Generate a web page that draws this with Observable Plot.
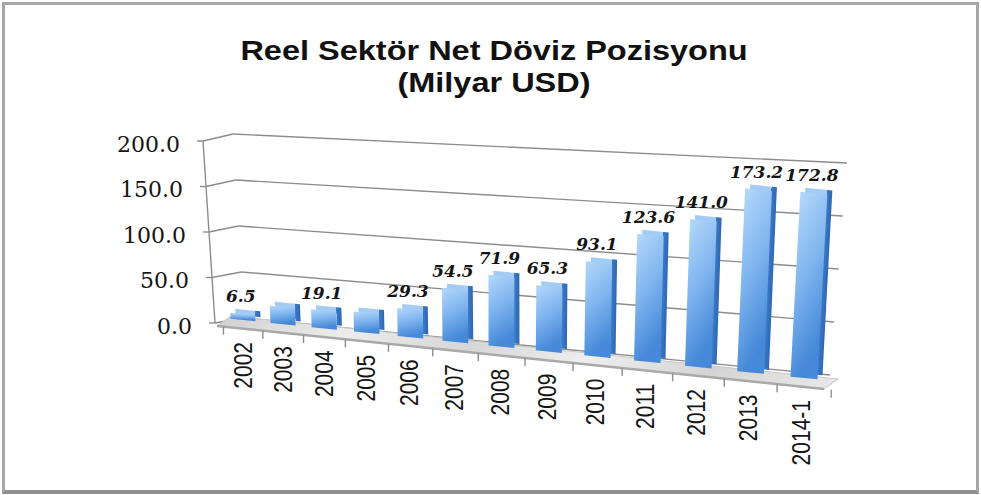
<!DOCTYPE html>
<html><head><meta charset="utf-8">
<script src="https://cdn.jsdelivr.net/npm/d3@7"></script>
<script src="https://cdn.jsdelivr.net/npm/@observablehq/plot@0.6"></script>
<style>
html,body{margin:0;padding:0;background:#fff;width:981px;height:495px;overflow:hidden;position:relative;}
#title{position:absolute;left:0;top:35px;width:988px;text-align:center;font-family:"Liberation Sans",Arial,sans-serif;font-weight:700;font-size:28px;line-height:32px;color:#111;white-space:nowrap;transform:scaleX(1.16);transform-origin:494px 0;}
#chart{position:absolute;left:0;top:110px;}
#border{position:absolute;left:2px;top:2px;width:977px;height:492px;box-sizing:border-box;border:3px solid #a6a6a6;border-bottom:4px solid #8f8f8f;pointer-events:none;}
</style></head><body>
<div id="title">Reel Sektör Net Döviz Pozisyonu<br>(Milyar USD)</div>
<div id="chart"></div>
<div id="border"></div>
<script>
// ---- data ----
const categories = ["2002","2003","2004","2005","2006","2007","2008","2009","2010","2011","2012","2013","2014-1"];
const values = [6.5, 18.5, 19.1, 21.3, 29.3, 54.5, 71.9, 65.3, 93.1, 123.6, 141.0, 173.2, 172.8];
const valueLabels = ["6.5", null, "19.1", null, "29.3", "54.5", "71.9", "65.3", "93.1", "123.6", "141.0", "173.2", "172.8"];
const yTicks = [0, 50, 100, 150, 200];
const yTickLabels = ["0.0", "50.0", "100.0", "150.0", "200.0"];

const data = categories.map((c, i) => ({cat: c, value: values[i], label: valueLabels[i], i}));
const labelData = data.filter(d => d.label != null);

// ---- layout ----
const W = 981, H = 385, OY = 110;
const MT = 30, MB = 160, ML = 220, MR = 150;
const Y0 = H - MB, Y200 = MT;
const n = categories.length;
const gridColor = "#8c8c8c", axisColor = "#8c8c8c";

// perspective helpers (page coordinates, shifted by OY)
const u2x = u => 243 + 561 * u - 88 * u * (1 - u);
const baseY = x => 320 + 58 * (x - 243) / 561 - OY;
const pxPer = x => 0.91 + 0.16 * (x - 243) / 561;
const barW = x => 25 + 2 * (x - 243) / 561;
const lean = x => (x - 508) * 0.00018;
const SK = 0.1;
function barPt(i, t, v) {
  const xc = u2x(i / (n - 1)), w = barW(xc), k = pxPer(xc), L = lean(xc);
  return [xc + t * w + L * k * v, baseY(xc) + SK * t * w - k * v];
}
const A = v => [215 - 12 * v / 200, 323 - 182 * v / 200 - OY];
const B = v => [244 - 11 * v / 200, 318 - 184 * v / 200 - OY];
const C = v => [830 + 17 * v / 200, 375 - 212 * v / 200 - OY];
const FL = [217, 326 - OY], FR = [824, 389 - OY], BL = [231, 316 - OY];
const floorFront = x => FL[1] + (FR[1] - FL[1]) * (x - FL[0]) / (FR[0] - FL[0]);
const vOf = y => (Y0 - y) / (Y0 - Y200) * 200;

const plot = Plot.plot({
  width: W, height: H,
  marginTop: MT, marginBottom: MB, marginLeft: ML, marginRight: MR,
  x: {domain: categories, padding: 0.45, axis: null},
  y: {domain: [0, 200], axis: null},
  style: {background: "transparent", overflow: "visible"},
  marks: [
    Plot.ruleY(yTicks, {stroke: gridColor, strokeWidth: 1.4, ariaDescription: "grid-side"}),
    Plot.ruleY(yTicks, {stroke: gridColor, strokeWidth: 1.4, ariaDescription: "grid-back"}),
    Plot.frame({fill: "url(#floorGrad)", stroke: "#c8c8c8", ariaDescription: "floor"}),
    Plot.ruleY([0], {stroke: "#a9a9a9", strokeWidth: 2.5, ariaDescription: "floor-edge"}),
    Plot.ruleX([categories[0]], {y1: 0, y2: 200, stroke: axisColor, strokeWidth: 1.4, ariaDescription: "y-axis"}),
    Plot.tickY(yTicks, {y: d => d, stroke: axisColor, strokeWidth: 1.4, ariaDescription: "y-ticks"}),
    Plot.text(yTicks, {y: d => d, text: (d, i) => yTickLabels[i], frameAnchor: "left", textAnchor: "end",
      fontFamily: "DejaVu Serif", fontSize: 22, fill: "#151515", ariaDescription: "y-labels"}),
    Plot.tickX(categories, {x: d => d, stroke: axisColor, strokeWidth: 1.4, ariaDescription: "x-ticks"}),
    Plot.tickX([categories[0]], {x: d => d, stroke: axisColor, strokeWidth: 1.4, ariaDescription: "x-tick-left"}),
    Plot.barY(data, {x: "cat", y: "value", fill: "url(#backGrad)", dx: 5, dy: -4, ariaDescription: "bars-back"}),
    Plot.barY(data, {x: "cat", y: "value", fill: "url(#frontGrad)", ariaDescription: "bars"}),
    Plot.text(labelData, {x: "cat", y: "value", text: "label", fontFamily: "DejaVu Serif", fontWeight: "bold",
      fontStyle: "italic", fontSize: 17, fill: "#151515", ariaDescription: "value-labels"}),
    Plot.text(categories, {x: d => d, text: d => d, frameAnchor: "bottom", rotate: -90, textAnchor: "end",
      fontFamily: "Liberation Sans, sans-serif", fontSize: 25, fill: "#151515", ariaDescription: "x-labels"})
  ]
});

// gradients
const defs = document.createElementNS("http://www.w3.org/2000/svg", "defs");
defs.innerHTML = `
<linearGradient id="frontGrad" x1="0" y1="0" x2="0.3" y2="1">
  <stop offset="0" stop-color="#b4d8fa"/><stop offset="0.5" stop-color="#80b5ef"/><stop offset="1" stop-color="#4689d8"/>
</linearGradient>
<linearGradient id="backGrad" x1="0" y1="0" x2="1" y2="0">
  <stop offset="0" stop-color="#a3ccf5"/><stop offset="0.8" stop-color="#a3ccf5"/>
  <stop offset="0.8" stop-color="#3c7bc8"/><stop offset="1" stop-color="#2d67b2"/>
</linearGradient>
<linearGradient id="floorGrad" x1="0" y1="0" x2="1" y2="0">
  <stop offset="0" stop-color="#d2d2d2"/><stop offset="0.2" stop-color="#ececec"/><stop offset="0.4" stop-color="#d6d6d6"/>
  <stop offset="0.6" stop-color="#eeeeee"/><stop offset="0.8" stop-color="#d4d4d4"/><stop offset="1" stop-color="#e8e8e8"/>
</linearGradient>`;
plot.insertBefore(defs, plot.firstChild);

// ---- projection post-processing ----
function affine(P, Q) {
  const [[x0, y0], [x1, y1], [x2, y2]] = P;
  const det = x0 * (y1 - y2) - y0 * (x1 - x2) + (x1 * y2 - x2 * y1);
  const solve = (v0, v1, v2) => [
    (v0 * (y1 - y2) - y0 * (v1 - v2) + (v1 * y2 - v2 * y1)) / det,
    (x0 * (v1 - v2) - v0 * (x1 - x2) + (x1 * v2 - x2 * v1)) / det,
    (x0 * (y1 * v2 - y2 * v1) - y0 * (x1 * v2 - x2 * v1) + v0 * (x1 * y2 - x2 * y1)) / det
  ];
  const [a, c, e] = solve(Q[0][0], Q[1][0], Q[2][0]);
  const [b, d, f] = solve(Q[0][1], Q[1][1], Q[2][1]);
  return `matrix(${a},${b},${c},${d},${e},${f})`;
}
// select a mark's elements; reset the group's own offset so positions are absolute
function els(desc, groupTransform) {
  const node = plot.querySelector(`[aria-description="${desc}"]`);
  if (!node) return [];
  if (node.tagName.toLowerCase() !== "g") return [node];
  if (groupTransform) node.setAttribute("transform", groupTransform); else node.removeAttribute("transform");
  return Array.from(node.children).filter(e => e.tagName.toLowerCase() !== "title");
}
const num = (el, a) => +(el.getAttribute(a) || 0);
function setLine(el, mapPt) {
  const p0 = [num(el, "x1"), num(el, "y1")], p1 = [num(el, "x2"), num(el, "y2")];
  const q0 = mapPt(p0, p1), q1 = mapPt(p1, p0);
  const l1 = Math.hypot(p1[0] - p0[0], p1[1] - p0[1]) || 1;
  const l2 = Math.hypot(q1[0] - q0[0], q1[1] - q0[1]) || 1;
  const p2 = [p0[0] - (p1[1] - p0[1]) / l1, p0[1] + (p1[0] - p0[0]) / l1];
  const q2 = [q0[0] - (q1[1] - q0[1]) / l2, q0[1] + (q1[0] - q0[0]) / l2];
  el.setAttribute("transform", affine([p0, p1, p2], [q0, q1, q2]));
  el.setAttribute("vector-effect", "non-scaling-stroke");
}
function placeText(el, q, extra) {
  const t = el.getAttribute("transform") || "";
  const rot = (t.match(/rotate\([^)]*\)/) || [""])[0];
  el.removeAttribute("x"); el.removeAttribute("y");
  el.setAttribute("dy", "0.35em");
  el.setAttribute("transform", `translate(${q[0]},${q[1]})${rot ? " " + rot : ""}${extra ? " " + extra : ""}`);
}

// gridlines: side wall and back wall
els("grid-side").forEach(el => setLine(el, (p, o) => { const v = vOf(p[1]); return p[0] <= o[0] ? A(v) : B(v); }));
els("grid-back").forEach(el => setLine(el, (p, o) => { const v = vOf(p[1]); return p[0] <= o[0] ? B(v) : C(v); }));
// floor parallelogram
els("floor").forEach(el => {
  const x = num(el, "x"), y = num(el, "y"), w = num(el, "width"), h = num(el, "height");
  const BR = [BL[0] + FR[0] - FL[0], BL[1] + FR[1] - FL[1]];
  el.setAttribute("transform", affine([[x, y], [x + w, y], [x, y + h]], [BL, BR, FL]));
  el.setAttribute("vector-effect", "non-scaling-stroke");
});
els("floor-edge").forEach(el => setLine(el, (p, o) => p[0] <= o[0] ? FL : FR));
// y axis line, ticks, labels
els("y-axis").forEach(el => setLine(el, p => A(vOf(p[1]))));
els("y-ticks").forEach(el => setLine(el, (p, o) => { const a = A(vOf(p[1])); return p[0] <= o[0] ? [a[0] - 6, a[1]] : a; }));
els("y-labels").forEach((el, i) => { const a = A(yTicks[i]); placeText(el, [a[0] - 23, a[1] + 3]); });
// x ticks at band boundaries along the floor front edge
function tickAt(el, j) {
  const x = u2x((j - 0.5) / (n - 1)), y = floorFront(x);
  setLine(el, (p, o) => p[1] <= o[1] ? [x, y] : [x, y + 8]);
}
els("x-ticks").forEach((el, i) => tickAt(el, i + 1));
els("x-tick-left").forEach(el => tickAt(el, 0));
// bars (front and back faces)
[["bars-back", "translate(5,-4)"], ["bars", null]].forEach(([desc, gt]) => els(desc, gt).forEach((el, i) => {
  const x = num(el, "x"), w = num(el, "width");
  el.setAttribute("transform", affine([[x, Y0], [x + w, Y0], [x, Y200]],
    [barPt(i, -0.5, 0), barPt(i, 0.5, 0), barPt(i, -0.5, 200)]));
}));
// value labels
els("value-labels").forEach((el, j) => {
  const d = labelData[j], top = barPt(d.i, 0, d.value);
  placeText(el, [top[0] - 2, top[1] - 18]);
});
// category labels
els("x-labels").forEach((el, i) => {
  const xc = u2x(i / (n - 1));
  placeText(el, [xc - 3 * i / (n - 1), baseY(xc) + 22], "scale(0.84,1)");
});

document.getElementById("chart").appendChild(plot);
</script>
</body></html>
